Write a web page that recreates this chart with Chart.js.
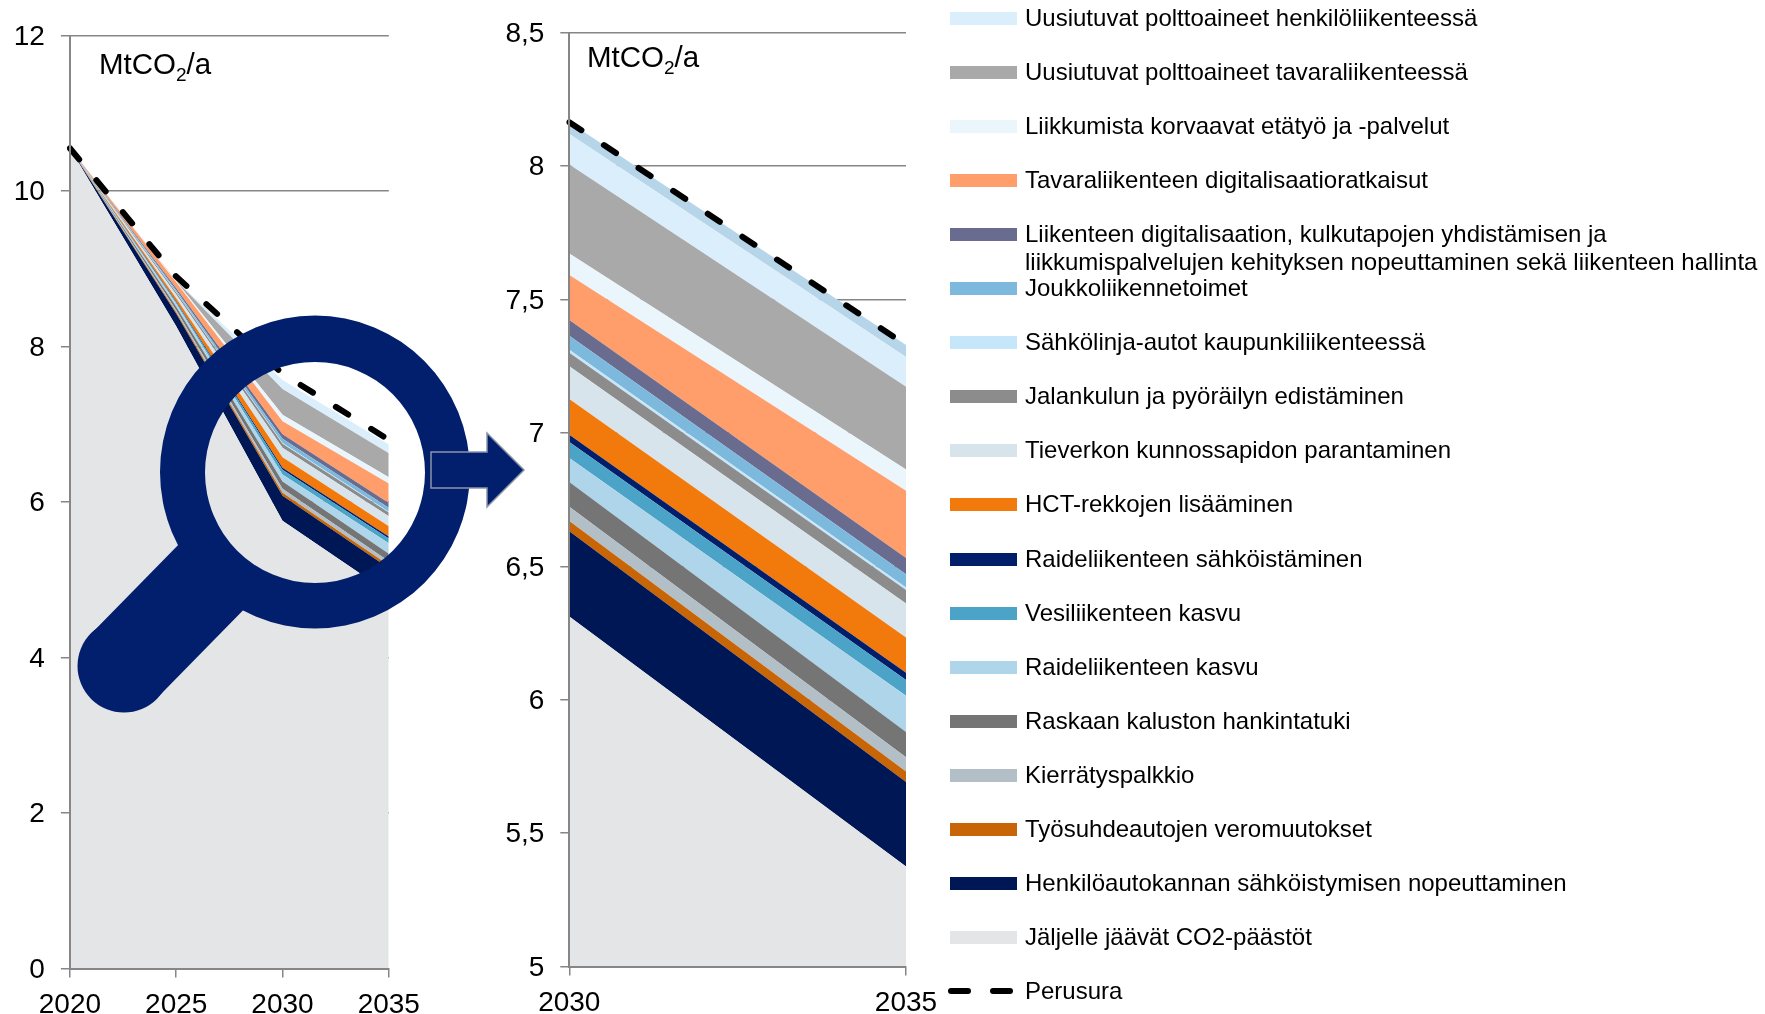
<!DOCTYPE html>
<html>
    <head>
        <title>MtCO2/a</title>
        <script src="https://cdn.jsdelivr.net/npm/chart.js@4.4.1/dist/chart.umd.min.js"></script>
        <style>
            html, body { margin: 0; padding: 0; background: white; overflow: hidden; }
            body { width: 1765px; height: 1014px; position: relative; font-family: "Liberation Sans", Arial, sans-serif; color: black; }
            canvas { position: absolute; top: 0; }
            .unit { position: absolute; font-size: 29.5px; line-height: 34px; white-space: nowrap; }
            .unit sub { font-size: 19px; line-height: 0; }
            .swatch { position: absolute; left: 950px; width: 67px; height: 13px; }
            .dash { position: absolute; width: 23px; height: 6px; border-radius: 3px; background: black; }
            .name { position: absolute; left: 1025px; font-size: 24px; line-height: 28px; white-space: pre; }
            svg { position: absolute; left: 0; top: 0; }
        </style>
    </head>
    <body>
        <canvas id="overviewChart" width="470" height="1014" style="left: 0"></canvas>
        <canvas id="zoomChart" width="480" height="1014" style="left: 480px"></canvas>
        <div class="unit" style="left: 99px; top: 47px">MtCO<sub>2</sub>/a</div>
        <div class="unit" style="left: 587px; top: 40px">MtCO<sub>2</sub>/a</div>
        <div id="legend"></div>
        <svg width="1765" height="1014">
            <path fill="#011f6d" fill-rule="evenodd" d="M160 472a155 156.5 0 1 0 310 0a155 156.5 0 1 0 -310 0zM205 472.5a110 110.5 0 1 0 220 0a110 110.5 0 1 0 -220 0z"></path>
            <line x1="124" y1="666" x2="223" y2="565" stroke="#011f6d" stroke-width="92"></line>
            <circle cx="124" cy="666" r="46.5" fill="#011f6d"></circle>
            <polygon points="431,452 487,452 487,433 524,470 487,507 487,488 431,488" fill="#011f6d" stroke="#8a94a8" stroke-width="1.5"></polygon>
        </svg>
        <script>
            const years = ["2020", "2025", "2030", "2035"];
            const zoomYears = ["2030", "2035"];

            // Band thickness per year, Mt. Same order as the legend, top of the stack first.
            const henkiloPolttoaineet = [0, 0.005, 0.115, 0.112];
            const tavaraPolttoaineet = [0, 0.005, 0.333, 0.310];
            const etatyo = [0, 0.015, 0.081, 0.080];
            const tavaraDigi = [0, 0.075, 0.169, 0.252];
            const liikenneDigi = [0, 0.025, 0.059, 0.061];
            const joukkoliikenne = [0, 0.025, 0.052, 0.049];
            const sahkolinja = [0, 0.005, 0.011, 0.010];
            const jalankulku = [0, 0.025, 0.051, 0.050];
            const tieverkko = [0, 0.05, 0.123, 0.128];
            const hctRekat = [0, 0.04, 0.134, 0.132];
            const raideSahko = [0, 0.012, 0.027, 0.027];
            const vesiliikenne = [0, 0.018, 0.060, 0.059];
            const raideKasvu = [0, 0.04, 0.090, 0.136];
            const raskasKalusto = [0, 0.045, 0.093, 0.095];
            const kierratys = [0, 0.025, 0.053, 0.053];
            const tyosuhdeautot = [0, 0.02, 0.038, 0.039];
            const henkiloautot = [0, 0.16, 0.320, 0.317];

            const jaljellaOverview = [10.55, 8.26, 5.76, 4.83];
            const jaljellaZoom = [6.312, 5.375];
            const perusuraOverview = [10.55, 8.9, 7.65, 6.8];
            const perusuraZoom = [8.165, 7.33];
            // darker strip on top of the zoomed stack, has no legend entry
            const ylinKaistaZoom = [0.044, 0.045];

            const names = [
                "Uusiutuvat polttoaineet henkilöliikenteessä",
                "Uusiutuvat polttoaineet tavaraliikenteessä",
                "Liikkumista korvaavat etätyö ja -palvelut",
                "Tavaraliikenteen digitalisaatioratkaisut",
                "Liikenteen digitalisaation, kulkutapojen yhdistämisen ja\nliikkumispalvelujen kehityksen nopeuttaminen sekä liikenteen hallinta",
                "Joukkoliikennetoimet",
                "Sähkölinja-autot kaupunkiliikenteessä",
                "Jalankulun ja pyöräilyn edistäminen",
                "Tieverkon kunnossapidon parantaminen",
                "HCT-rekkojen lisääminen",
                "Raideliikenteen sähköistäminen",
                "Vesiliikenteen kasvu",
                "Raideliikenteen kasvu",
                "Raskaan kaluston hankintatuki",
                "Kierrätyspalkkio",
                "Työsuhdeautojen veromuutokset",
                "Henkilöautokannan sähköistymisen nopeuttaminen",
                "Jäljelle jäävät CO2-päästöt",
                "Perusura",
            ];
            const colors = [
                "#dbeefb", "#a9a9a9", "#eaf5fc", "#ff9e6b", "#696b8f", "#7db9dd",
                "#c6e6fa", "#8c8c8c", "#d7e4ec", "#f27a0c", "#001e69", "#4ba3c8",
                "#aed5e9", "#757575", "#b3bfc6", "#c86507", "#001756", "#e4e5e7",
                "#000000",
            ];
            const bands = [
                henkiloPolttoaineet, tavaraPolttoaineet, etatyo, tavaraDigi, liikenneDigi, joukkoliikenne,
                sahkolinja, jalankulku, tieverkko, hctRekat, raideSahko, vesiliikenne,
                raideKasvu, raskasKalusto, kierratys, tyosuhdeautot, henkiloautot,
            ];

            const axisColor = "#868686";
            const tickFont = { family: "Liberation Sans", size: 28 };

            const createDataset = (name, color, data, fill) => {
                return {
                    label: name,
                    data: data,
                    backgroundColor: color,
                    borderWidth: 0,
                    pointRadius: 0,
                    tension: 0,
                    fill: fill,
                    stack: "bands",
                };
            };

            const createBaseline = (data) => {
                return {
                    label: names[18],
                    data: data,
                    borderColor: colors[18],
                    borderWidth: 6,
                    borderDash: [14.5, 27],
                    borderCapStyle: "round",
                    pointRadius: 0,
                    tension: 0,
                    fill: false,
                    stack: "baseline",
                    order: -1,
                };
            };

            const createChart = (id, labels, datasets, yRange, box) => {
                return new Chart(document.getElementById(id), {
                    type: "line",
                    data: { labels: labels, datasets: datasets },
                    options: {
                        responsive: false,
                        animation: false,
                        layout: { padding: { top: box.top, right: box.right } },
                        plugins: { legend: { display: false }, tooltip: { enabled: false } },
                        scales: {
                            x: {
                                stacked: true,
                                grid: { color: axisColor, lineWidth: 1.5, drawOnChartArea: false, tickLength: 9 },
                                border: { color: axisColor, width: 2, z: 1 },
                                ticks: { color: "black", font: tickFont, padding: 11, maxRotation: 0, autoSkip: false },
                                afterFit: (scale) => { scale.height = box.bottom; },
                            },
                            y: {
                                stacked: true,
                                min: yRange.min,
                                max: yRange.max,
                                grid: { color: axisColor, lineWidth: 1.5, tickLength: 9 },
                                border: { color: axisColor, width: 2, z: 1 },
                                ticks: {
                                    stepSize: yRange.step,
                                    color: "black",
                                    font: tickFont,
                                    padding: 16,
                                    labelOffset: 1.5,
                                    callback: (value) => String(value).replace(".", ","),
                                },
                                afterFit: (scale) => { scale.width = box.left; },
                            },
                        },
                    },
                });
            };

            const overviewDatasets = [createDataset(names[17], colors[17], jaljellaOverview, "start")];
            const zoomDatasets = [createDataset(names[17], colors[17], jaljellaZoom, "start")];
            for (let i = bands.length - 1; i >= 0; i--) {
                overviewDatasets.push(createDataset(names[i], colors[i], bands[i], "-1"));
                zoomDatasets.push(createDataset(names[i], colors[i], bands[i].slice(2), "-1"));
            }
            zoomDatasets.push(createDataset("", "#b6d5e9", ylinKaistaZoom, "-1"));
            overviewDatasets.push(createBaseline(perusuraOverview));
            zoomDatasets.push(createBaseline(perusuraZoom));

            createChart("overviewChart", years, overviewDatasets, { min: 0, max: 12, step: 2 }, { left: 69.9, top: 35.5, right: 81.2, bottom: 45.5 });
            createChart("zoomChart", zoomYears, zoomDatasets, { min: 5, max: 8.5, step: 0.5 }, { left: 89.3, top: 31.2, right: 54, bottom: 47.5 });

            const legend = document.getElementById("legend");
            names.forEach((name, i) => {
                const center = 18.5 + 54.05 * i;
                if (i < 18) {
                    const swatch = document.createElement("div");
                    swatch.className = "swatch";
                    swatch.style.top = `${center - 6.5}px`;
                    swatch.style.background = colors[i];
                    legend.appendChild(swatch);
                } else {
                    [947.5, 990].forEach(left => {
                        const dash = document.createElement("div");
                        dash.className = "dash";
                        dash.style.left = `${left}px`;
                        dash.style.top = `${center - 3}px`;
                        legend.appendChild(dash);
                    });
                }
                const label = document.createElement("div");
                label.className = "name";
                label.style.top = `${center - 14.5}px`;
                label.textContent = name;
                legend.appendChild(label);
            });
        </script>
    </body>
</html>
